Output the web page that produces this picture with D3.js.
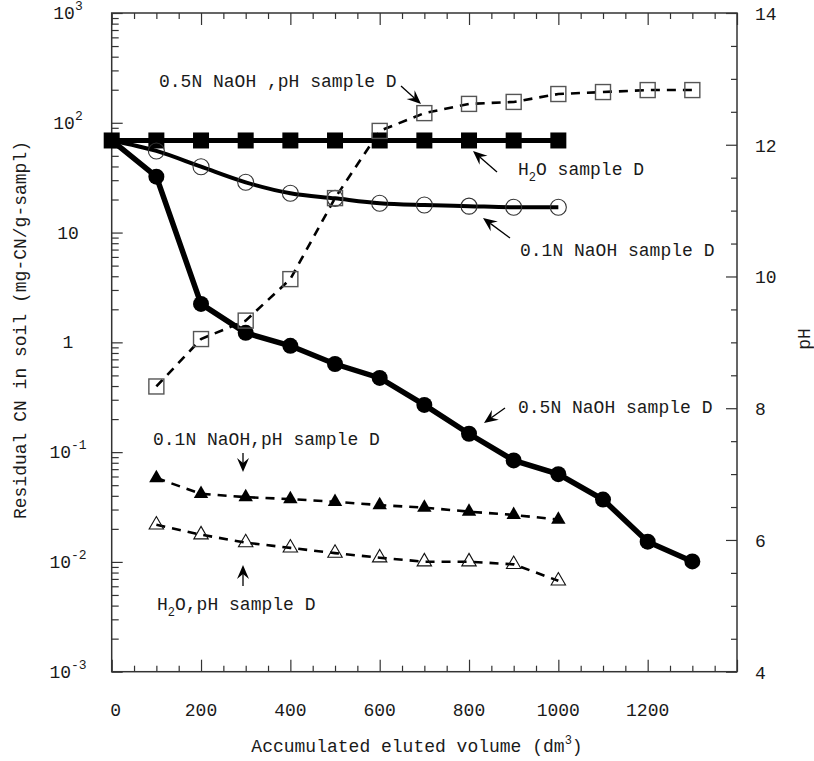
<!DOCTYPE html>
<html>
<head>
<meta charset="utf-8">
<script src="https://cdn.jsdelivr.net/npm/d3@7"></script>
<style>
  body { margin: 0; background: #fff; }
  text { font-family: "Liberation Mono", "DejaVu Sans Mono", monospace; fill: #1a1a1a; }
</style>
</head>
<body>
<script>
// accumulated eluted volume (dm3)
var volume = [0, 100, 200, 300, 400, 500, 600, 700, 800, 900, 1000, 1100, 1200, 1300];

// residual CN (mg-CN/g-sampl), left log axis
var cnH2O    = [69, 69, 69, 69, 69, 69, 69, 69, 69, 69, 69];
var cnNaOH01 = [69, 55.4, 39.8, 28.7, 22.8, 20.5, 18.5, 17.8, 17.4, 17.0, 17.0];
var cnNaOH05 = [69, 32.3, 2.24, 1.22, 0.93, 0.635, 0.474, 0.269, 0.147, 0.084, 0.063, 0.037, 0.0153, 0.0101];

// pH, right axis (first value at 100 dm3)
var phNaOH05 = [8.33, 9.05, 9.33, 9.96, 11.19, 12.21, 12.48, 12.62, 12.65, 12.77, 12.80, 12.83, 12.83];
var phNaOH01 = [6.94, 6.70, 6.65, 6.62, 6.58, 6.53, 6.49, 6.43, 6.38, 6.31];
var phH2O    = [6.23, 6.08, 5.96, 5.88, 5.80, 5.73, 5.67, 5.67, 5.63, 5.38];

// tick labels
var xTickLabels = [0, 200, 400, 600, 800, 1000, 1200];
var yDecades = [-3, -2, -1, 0, 1, 2, 3];
var phTickLabels = [4, 6, 8, 10, 12, 14];

var W = 814, H = 761;
var pLeft = 111.7, pRight = 737, pTop = 13, pBottom = 671.7;

var svg = d3.select('body').append('svg')
    .attr('width', W)
    .attr('height', H);

var x = d3.scaleLinear().domain([0, 1400]).range([pLeft, pRight]);
var yL = d3.scaleLog().domain([1e-3, 1e3]).range([pBottom, pTop]);
var yR = d3.scaleLinear().domain([4, 14]).range([pBottom, pTop]);

// minor tick values
var xMinor = d3.range(0, 1401, 50).filter(function (d) { return d % 200 != 0; });
var xMajor = d3.range(0, 1401, 200);
var yMinor = [];
for (var e = -3; e < 3; e++) {
    for (var m = 2; m < 10; m++) yMinor.push(m * Math.pow(10, e));
}
var phMinor = d3.range(4.5, 14, 0.5).filter(function (d) { return d % 2 != 0; });

function styleAxis(g) {
    g.select('.domain').remove();
    g.selectAll('line').attr('stroke', '#333').attr('stroke-width', 1.2);
}

// bottom axis
svg.append('g').attr('transform', 'translate(0,' + pBottom + ')')
    .call(d3.axisBottom(x).tickValues(xMajor).tickSize(-12).tickFormat(''))
    .call(styleAxis);
svg.append('g').attr('transform', 'translate(0,' + pBottom + ')')
    .call(d3.axisBottom(x).tickValues(xMinor).tickSize(-6).tickFormat(''))
    .call(styleAxis);
// top axis
svg.append('g').attr('transform', 'translate(0,' + pTop + ')')
    .call(d3.axisTop(x).tickValues(xMajor).tickSize(-12).tickFormat(''))
    .call(styleAxis);
svg.append('g').attr('transform', 'translate(0,' + pTop + ')')
    .call(d3.axisTop(x).tickValues(xMinor).tickSize(-6).tickFormat(''))
    .call(styleAxis);
// left log axis
svg.append('g').attr('transform', 'translate(' + pLeft + ',0)')
    .call(d3.axisLeft(yL).tickValues(yDecades.map(function (d) { return Math.pow(10, d); })).tickSize(-11).tickFormat(''))
    .call(styleAxis);
svg.append('g').attr('transform', 'translate(' + pLeft + ',0)')
    .call(d3.axisLeft(yL).tickValues(yMinor).tickSize(-7).tickFormat(''))
    .call(styleAxis);
// right pH axis
svg.append('g').attr('transform', 'translate(' + pRight + ',0)')
    .call(d3.axisRight(yR).tickValues(phTickLabels).tickSize(-11).tickFormat(''))
    .call(styleAxis);
svg.append('g').attr('transform', 'translate(' + pRight + ',0)')
    .call(d3.axisRight(yR).tickValues(phMinor).tickSize(-6).tickFormat(''))
    .call(styleAxis);

// frame
svg.append('rect')
    .attr('x', pLeft).attr('y', pTop)
    .attr('width', pRight - pLeft).attr('height', pBottom - pTop)
    .attr('fill', 'none').attr('stroke', '#333').attr('stroke-width', 1.5);

// tick labels
svg.selectAll('.xlab').data(xTickLabels).enter().append('text')
    .attr('x', function (d) { return x(d) + (d == 0 ? 4 : 0); })
    .attr('y', 716)
    .attr('text-anchor', 'middle')
    .attr('font-size', 18)
    .text(function (d) { return d; });

var ylab = svg.selectAll('.ylab').data(yDecades).enter().append('text')
    .attr('x', 68)
    .attr('y', function (d) { return yL(Math.pow(10, d)) + 6; })
    .attr('text-anchor', 'middle')
    .attr('font-size', 18);
ylab.each(function (d) {
    var t = d3.select(this);
    if (d == 0) { t.text('1'); return; }
    t.append('tspan').text('10');
    if (d != 1) {
        t.append('tspan').attr('dy', -9).attr('font-size', 13).text(d);
    }
});

svg.selectAll('.phlab').data(phTickLabels).enter().append('text')
    .attr('x', 755)
    .attr('y', function (d) { return yR(d) + 7; })
    .attr('font-size', 18)
    .text(function (d) { return d; });

// axis titles
var xt = svg.append('text')
    .attr('x', 417).attr('y', 752)
    .attr('text-anchor', 'middle')
    .attr('font-size', 18);
xt.append('tspan').text('Accumulated eluted volume (dm');
xt.append('tspan').attr('dy', -8).attr('font-size', 12).text('3');
xt.append('tspan').attr('dy', 8).text(')');

svg.append('text')
    .attr('transform', 'translate(26,330) rotate(-90)')
    .attr('text-anchor', 'middle')
    .attr('font-size', 18)
    .text('Residual CN in soil (mg-CN/g-sampl)');

svg.append('text')
    .attr('transform', 'translate(810,339) rotate(-90)')
    .attr('text-anchor', 'middle')
    .attr('font-size', 18)
    .text('pH');

// series helpers
function pairs(xs, ys) {
    return ys.map(function (v, i) { return [xs[i], v]; });
}
var phVolume = volume.slice(1);

var dH2O = pairs(volume, cnH2O);
var d01 = pairs(volume, cnNaOH01);
var d05 = pairs(volume, cnNaOH05);
var dph05 = pairs(phVolume, phNaOH05);
var dph01 = pairs(phVolume, phNaOH01);
var dphH2O = pairs(phVolume, phH2O);

var lineL = d3.line().x(function (d) { return x(d[0]); }).y(function (d) { return yL(d[1]); });
var lineLsmooth = d3.line().curve(d3.curveMonotoneX).x(function (d) { return x(d[0]); }).y(function (d) { return yL(d[1]); });
var lineR = d3.line().x(function (d) { return x(d[0]); }).y(function (d) { return yR(d[1]); });

// dashed pH lines
[dph05, dph01, dphH2O].forEach(function (d) {
    svg.append('path').datum(d)
        .attr('d', lineR)
        .attr('fill', 'none')
        .attr('stroke', '#000')
        .attr('stroke-width', 2.6)
        .attr('stroke-dasharray', '9,7');
});

// solid CN lines
svg.append('path').datum(dH2O).attr('d', lineL)
    .attr('fill', 'none').attr('stroke', '#000').attr('stroke-width', 5);
svg.append('path').datum(d01).attr('d', lineLsmooth)
    .attr('fill', 'none').attr('stroke', '#000').attr('stroke-width', 4);
svg.append('path').datum(d05).attr('d', lineL)
    .attr('fill', 'none').attr('stroke', '#000').attr('stroke-width', 5.5);

// markers
svg.selectAll('.sqf').data(dH2O).enter().append('rect')
    .attr('x', function (d) { return x(d[0]) - 8; })
    .attr('y', function (d) { return yL(d[1]) - 8; })
    .attr('width', 16).attr('height', 16)
    .attr('fill', '#000');

svg.selectAll('.cio').data(d01.slice(1)).enter().append('circle')
    .attr('cx', function (d) { return x(d[0]); })
    .attr('cy', function (d) { return yL(d[1]); })
    .attr('r', 8)
    .attr('fill', 'none').attr('stroke', '#333').attr('stroke-width', 1.1);

svg.selectAll('.cif').data(d05.slice(1)).enter().append('circle')
    .attr('cx', function (d) { return x(d[0]); })
    .attr('cy', function (d) { return yL(d[1]); })
    .attr('r', 8)
    .attr('fill', '#000');

svg.selectAll('.sqo').data(dph05).enter().append('rect')
    .attr('x', function (d) { return x(d[0]) - 7.5; })
    .attr('y', function (d) { return yR(d[1]) - 7.5; })
    .attr('width', 15).attr('height', 15)
    .attr('fill', 'none').attr('stroke', '#555').attr('stroke-width', 1.4);

var tri = d3.symbol().type(d3.symbolTriangle).size(90);
svg.selectAll('.trf').data(dph01).enter().append('path')
    .attr('d', tri)
    .attr('transform', function (d) { return 'translate(' + x(d[0]) + ',' + yR(d[1]) + ')'; })
    .attr('fill', '#000');
svg.selectAll('.tro').data(dphH2O).enter().append('path')
    .attr('d', tri)
    .attr('transform', function (d) { return 'translate(' + x(d[0]) + ',' + yR(d[1]) + ')'; })
    .attr('fill', 'none').attr('stroke', '#111').attr('stroke-width', 1.1);

// annotations
var notes = [
    { parts: [['0.5N NaOH ,pH sample D']], x: 159, y: 87, tail: [401, 86], tip: [421, 104] },
    { parts: [['H'], ['2', 'sub'], ['O sample D']], x: 518, y: 175, tail: [497, 172], tip: [473, 151] },
    { parts: [['0.1N NaOH sample D']], x: 520, y: 256, tail: [510, 238], tip: [483, 218] },
    { parts: [['0.5N NaOH sample D']], x: 518, y: 413, tail: [505, 408], tip: [484, 423] },
    { parts: [['0.1N NaOH,pH sample D']], x: 153, y: 445, tail: [243, 453], tip: [243, 472] },
    { parts: [['H'], ['2', 'sub'], ['O,pH sample D']], x: 157, y: 610, tail: [243, 586], tip: [243, 565] }
];

notes.forEach(function (n) {
    var t = svg.append('text').attr('x', n.x).attr('y', n.y).attr('font-size', 18);
    n.parts.forEach(function (p) {
        if (p[1] == 'sub') {
            t.append('tspan').attr('dy', 6).attr('font-size', 12).text(p[0]);
        } else {
            var s = t.append('tspan').text(p[0]);
            if (t.selectAll('tspan').size() > 1) s.attr('dy', -6);
        }
    });

    var dx = n.tip[0] - n.tail[0], dy = n.tip[1] - n.tail[1];
    var a = Math.atan2(dy, dx);
    var hl = 14, hw = 6, notch = 9;
    var ux = Math.cos(a), uy = Math.sin(a);
    var bx = n.tip[0] - ux * hl, by = n.tip[1] - uy * hl;
    var nx = n.tip[0] - ux * notch, ny = n.tip[1] - uy * notch;
    svg.append('line')
        .attr('x1', n.tail[0]).attr('y1', n.tail[1])
        .attr('x2', nx).attr('y2', ny)
        .attr('stroke', '#000').attr('stroke-width', 1.3);
    svg.append('path')
        .attr('d', 'M' + n.tip[0] + ',' + n.tip[1] +
            'L' + (bx - uy * hw) + ',' + (by + ux * hw) +
            'L' + nx + ',' + ny +
            'L' + (bx + uy * hw) + ',' + (by - ux * hw) + 'Z')
        .attr('fill', '#000');
});
</script>
</body>
</html>
